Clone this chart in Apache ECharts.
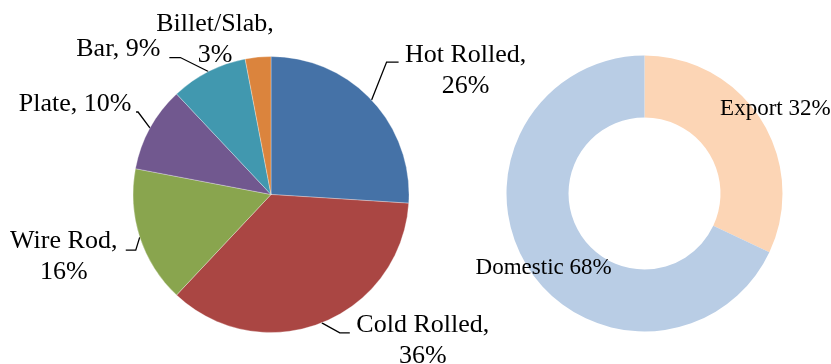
<!DOCTYPE html>
<html><head><meta charset="utf-8">
<script src="https://cdn.jsdelivr.net/npm/echarts@6/dist/echarts.min.js"></script>
<style>html,body{margin:0;padding:0;background:#fff}#c{width:831px;height:364px}</style>
</head><body><div id="c"></div>
<script>
// ---- data ----
const productNames = ['Hot Rolled', 'Cold Rolled', 'Wire Rod', 'Plate', 'Bar', 'Billet/Slab'];
const productShares = [26, 36, 16, 10, 9, 3];
const marketNames = ['Export', 'Domestic'];
const marketShares = [32, 68];

// ---- styling ----
const productColors = ['#4572A7', '#AA4643', '#89A54E', '#71588F', '#4198AF', '#DB843D'];
const marketColors = ['#FCD5B5', '#B9CDE5'];
const twoLineLabel = [true, true, true, false, false, true];
const labelOffsets = [[94, -29], [101, 18], [-76, 20], [-75, -24], [-90, -22], [-43, -17]];
const lineBends = [
  [[15, -38], [27, -38]],
  [[18, 10], [28, 10]],
  [[-4, 13], [-14, 13]],
  [[-12, -16], [-14, -16]],
  [[-28, -14], [-39, -14]],
  null
];
const donutLabelShift = [[38, -26], [-8, 16]];
const FONT = '"Liberation Serif", "Times New Roman", serif';

const chart = echarts.init(document.getElementById('c'), null, {renderer: 'canvas'});

const pieData = productNames.map((n, i) => ({
  name: n, value: productShares[i],
  itemStyle: {color: productColors[i]},
  labelLine: lineBends[i] ? {} : {lineStyle: {opacity: 0}}
}));
const donutData = marketNames.map((n, i) => ({
  name: n, value: marketShares[i], itemStyle: {color: marketColors[i]}
}));

chart.setOption({
  animation: false,
  backgroundColor: '#fff',
  series: [
    {
      type: 'pie',
      center: [271, 194.5],
      radius: [0, 138],
      startAngle: 90,
      clockwise: true,
      avoidLabelOverlap: false,
      data: pieData,
      itemStyle: {borderColor: 'rgba(255,255,255,0.5)', borderWidth: 0.6},
      label: {
        show: true,
        position: 'outside',
        color: '#000',
        fontFamily: FONT,
        fontSize: 26,
        lineHeight: 31,
        formatter: p => p.name + ',' + (twoLineLabel[p.dataIndex] ? '\n' : ' ') + p.value + '%'
      },
      labelLine: {show: true, length: 10, length2: 10, smooth: false,
        lineStyle: {color: '#000', width: 1.3}},
      labelLayout: function (p) {
        const i = p.dataIndex;
        const pts = p.labelLinePoints;
        if (!pts) return {};
        const a = [pts[0][0], pts[0][1]];
        const off = labelOffsets[i];
        const b = lineBends[i];
        return {
          x: a[0] + off[0], y: a[1] + off[1],
          align: 'center', verticalAlign: 'middle',
          labelLinePoints: b
            ? [a, [a[0] + b[0][0], a[1] + b[0][1]], [a[0] + b[1][0], a[1] + b[1][1]]]
            : [a, a.slice(), a.slice()]
        };
      }
    },
    {
      type: 'pie',
      center: [644.5, 193.5],
      radius: [76, 138],
      startAngle: 90,
      clockwise: true,
      data: donutData,
      label: {
        show: true,
        position: 'inside',
        color: '#000',
        fontFamily: FONT,
        fontSize: 23,
        formatter: p => p.name + ' ' + p.value + '%'
      },
      labelLine: {show: false},
      labelLayout: function (p) {
        const s = donutLabelShift[p.dataIndex];
        return {dx: s[0], dy: s[1]};
      }
    }
  ]
});
</script>
</body></html>
